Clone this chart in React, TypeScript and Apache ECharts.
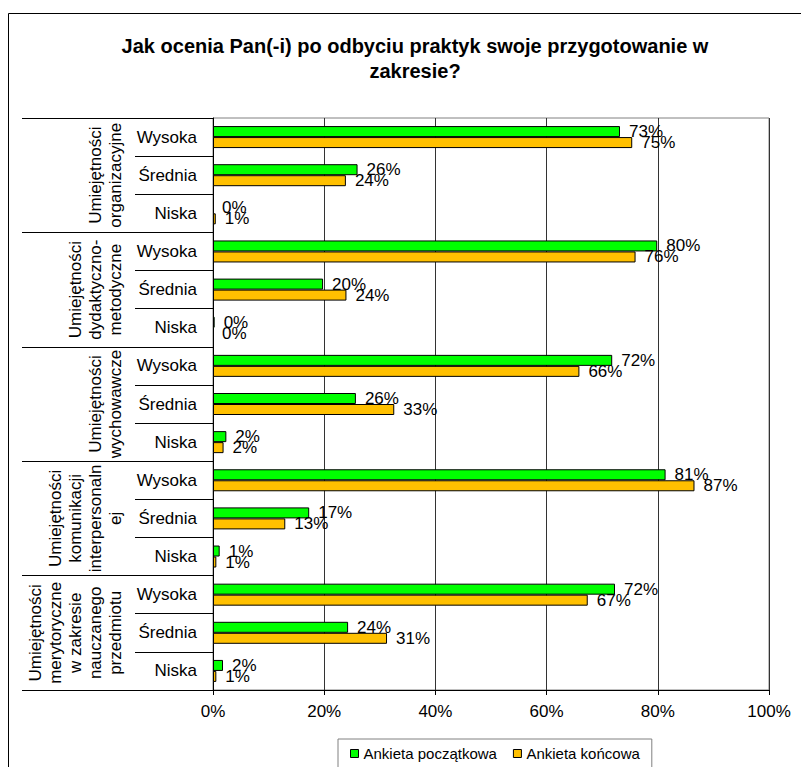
import React, { useEffect, useRef } from "react";
import * as echarts from "echarts";

const groups = [
  "Umiejętności\norganizacyjne",
  "Umiejętności\ndydaktyczno-\nmetodyczne",
  "Umiejętności\nwychowawcze",
  "Umiejętności\nkomunikacji\ninterpersonaln\nej",
  "Umiejętności\nmerytoryczne\nw zakresie\nnauczanego\nprzedmiotu",
];
const levels = ["Wysoka", "Średnia", "Niska"];
const categories = groups.flatMap(() => levels);

const seriesNames = ["Ankieta początkowa", "Ankieta końcowa"];
const initialSurvey = [73.2, 26.0, 0, 79.9, 19.8, 0.3, 71.8, 25.7, 2.4, 81.4, 17.3, 1.2, 72.3, 24.3, 1.8];
const finalSurvey = [75.4, 23.9, 0.5, 76.0, 24.0, 0, 65.9, 32.6, 1.9, 86.6, 13.0, 0.6, 67.4, 31.3, 0.6];
const xTicks = [0, 20, 40, 60, 80, 100];

const FONT = "'Liberation Sans', Arial, sans-serif";

const toItems = (arr: number[]) =>
  arr.map((v) => (v === 0 ? { value: v, itemStyle: { borderWidth: 0 } } : v));

export default function App() {
  const ref = useRef<HTMLDivElement>(null);
  useEffect(() => {
    if (!ref.current) return;
    const chart = echarts.init(ref.current, null, { renderer: "svg" });
    const label = {
      show: true,
      position: "right" as const,
      distance: 9,
      fontSize: 17,
      fontFamily: FONT,
      color: "#000",
      formatter: (p: any) => Math.round(p.value) + "%",
    };
    chart.setOption({
      animation: false,
      backgroundColor: "#fff",
      textStyle: { fontFamily: FONT },
      title: {
        text: "Jak ocenia Pan(-i) po odbyciu praktyk swoje przygotowanie w\nzakresie?",
        left: 410,
        top: 28,
        textAlign: "center",
        textStyle: { fontSize: 20, fontWeight: "bold", color: "#000", lineHeight: 25, fontFamily: FONT },
      },
      graphic: [
        {
          type: "rect",
          silent: true,
          z: -10,
          shape: { x: 8.5, y: 13.5, width: 900, height: 900 },
          style: { fill: "none", stroke: "#000", lineWidth: 1 },
        },
      ],
      legend: {
        data: seriesNames,
        left: 338,
        top: 739,
        icon: "rect",
        itemWidth: 8,
        itemHeight: 8,
        itemGap: 16,
        padding: [7, 12, 7, 12],
        borderColor: "#808080",
        borderWidth: 1,
        itemStyle: { borderColor: "#000", borderWidth: 1 },
        textStyle: { fontSize: 15, color: "#000", fontFamily: FONT },
      },
      grid: {
        left: 213,
        right: 32,
        top: 118,
        bottom: 77,
        show: true,
        borderColor: "#808080",
        borderWidth: 1,
        containLabel: false,
      },
      xAxis: {
        type: "value",
        min: 0,
        max: 100,
        interval: 20,
        axisLine: { show: true, lineStyle: { color: "#000" } },
        axisTick: { show: true, length: 5, lineStyle: { color: "#000" } },
        splitLine: { show: true, lineStyle: { color: "#333" } },
        axisLabel: {
          formatter: (v: number) => (xTicks.includes(v) ? v + "%" : ""),
          fontSize: 17,
          color: "#000",
          margin: 13,
          fontFamily: FONT,
        },
      },
      yAxis: [
        {
          type: "category",
          position: "left",
          data: categories,
          inverse: true,
          axisLine: { show: true, onZero: false, lineStyle: { color: "#000" } },
          axisTick: { show: true, length: 78, interval: 0, lineStyle: { color: "#000" } },
          axisLabel: { interval: 0, fontSize: 17, color: "#000", margin: 16, fontFamily: FONT },
          splitLine: { show: false },
        },
        {
          type: "category",
          position: "left",
          data: groups,
          inverse: true,
          axisLine: { show: false, onZero: false },
          axisTick: { show: true, length: 191, interval: 0, lineStyle: { color: "#000" } },
          axisLabel: {
            interval: 0,
            rotate: 90,
            fontSize: 17,
            lineHeight: 20,
            color: "#000",
            margin: 88,
            align: "center",
            verticalAlign: "bottom",
            fontFamily: FONT,
          },
          splitLine: { show: false },
        },
      ],
      series: [
        {
          name: seriesNames[0],
          type: "bar",
          yAxisIndex: 0,
          data: toItems(initialSurvey),
          barWidth: 11,
          barGap: "0%",
          itemStyle: { color: "#00FF00", borderColor: "#000", borderWidth: 1 },
          label,
        },
        {
          name: seriesNames[1],
          type: "bar",
          yAxisIndex: 0,
          data: toItems(finalSurvey),
          barWidth: 11,
          barGap: "0%",
          itemStyle: { color: "#FFC000", borderColor: "#000", borderWidth: 1 },
          label,
        },
      ],
    });
    return () => chart.dispose();
  }, []);
  return (
    <div
      ref={ref}
      style={{ position: "fixed", left: 0, top: 0, width: 801, height: 767, background: "#fff" }}
    />
  );
}
